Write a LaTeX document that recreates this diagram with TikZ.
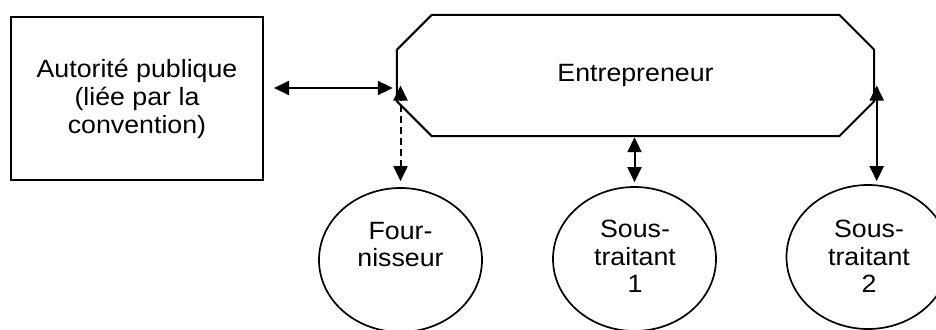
\documentclass[tikz,border=0pt]{standalone}
\usepackage{fontspec}
\setmainfont{Liberation Sans}[FakeStretch=1.07]
\usetikzlibrary{arrows.meta,calc,shapes.geometric}

\begin{document}
\begin{tikzpicture}[x=1pt,y=-1pt,
  every node/.style={font=\fontsize{25}{27.5}\selectfont, inner sep=0pt, align=center},
  frame/.style={draw, line width=2pt, line join=miter},
  bubble/.style={ellipse, draw, line width=1.7pt, minimum width=163pt, minimum height=144pt},
  tipend/.tip={Triangle[length=15pt,width=14pt]},
  link/.style={line width=2pt, tipend-tipend},
]
% page frame
\clip (0,0) rectangle (936,329);

% public authority
\node[frame, minimum width=252pt, minimum height=163pt,
      font=\fontsize{25}{28}\selectfont] (auth) at (137,98.5)
  {Autorité publique\\(liée par la\\convention)};

% contractor: octagon drawn around an invisible frame node
\node[minimum width=477pt, minimum height=121pt] (ent) at (635.5,75.5) {Entrepreneur};
\draw[frame]
  ($(ent.north west)+(35,0)$) -- ($(ent.north east)+(-35,0)$)
  -- ($(ent.north east)+(0,35)$) -- ($(ent.south east)+(0,-35)$)
  -- ($(ent.south east)+(-35,0)$) -- ($(ent.south west)+(35,0)$)
  -- ($(ent.south west)+(0,-35)$) -- ($(ent.north west)+(0,35)$) -- cycle;

% supplier and subcontractors
\node[bubble] (four) at (400.5,260) {};
\node (fourtxt) at (400.5,244.5) {Four-\\nisseur};
\node[bubble] (sub1) at (634.5,259) {};
\node (sub1txt) at (635,256.5) {Sous-\\traitant\\1};
\node[bubble] (sub2) at (868,257) {};
\node (sub2txt) at (869,256.5) {Sous-\\traitant\\2};

% relations
\draw[link, shorten <=10pt, shorten >=4pt] (auth.east |- 0,88) -- (ent.west |- 0,88);
\draw[link, dash pattern=on 7pt off 4pt, shorten <=6pt, shorten >=10pt]
  (four.north) -- (four.north |- ent.west);
\draw[link, shorten <=4pt, shorten >=1pt] (sub1.north) -- (sub1.north |- ent.south);
\draw[link, shorten <=3pt, shorten >=10pt]
  ($(sub2.north -| ent.east)+(2.5,0)$) -- ($(ent.east)+(2.5,0)$);
\end{tikzpicture}
\end{document}
